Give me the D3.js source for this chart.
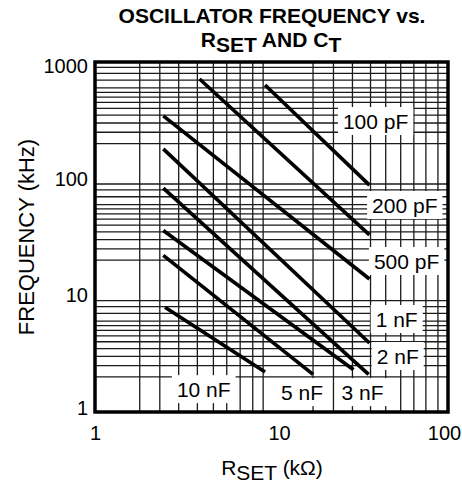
<!DOCTYPE html>
<html>
<head>
<meta charset="utf-8">
<script src="https://cdn.jsdelivr.net/npm/d3@7"></script>
<style>
  body { margin: 0; background: #fff; }
  svg { display: block; font-family: "Liberation Sans", Arial, Helvetica, sans-serif; }
</style>
</head>
<body>
<div id="chart"></div>
<script>
// one straight curve per timing capacitor:
// RSET (kOhm) and frequency (kHz) at both ends
var capLabels = ['100 pF', '200 pF', '500 pF', '1 nF', '2 nF', '3 nF', '5 nF', '10 nF'];
var rStart = [8.4, 3.7, 2.35, 2.35, 2.35, 2.35, 2.35, 2.4];
var fStart = [635, 715, 345, 180, 83, 36, 22, 7.9];
var rEnd = [34.3, 34.3, 34.3, 34.3, 33.9, 27.6, 15.9, 8.4];
var fEnd = [88, 33, 13.8, 3.9, 2.1, 2.3, 2.1, 2.2];

// where each curve's label sits, in chart units
var labelR = [37.3, 55.5, 56.9, 49.7, 50.4, 31.2, 13.7, 3.9];
var labelF = [312, 59.5, 19.7, 6.27, 3.02, 1.48, 1.48, 1.57];

var xTicks = [1, 10, 100];
var yTicks = [1, 10, 100, 1000];

// the grid as it is printed (not a clean log grid)
var xGrid = [1.75, 2.25, 2.85, 3.6, 4.4, 5.2, 6.15, 7.2, 8.2,
             15.9, 21, 27.2, 34.8, 42.8, 52.5, 62.8, 74, 87.2];
var yGridSteps = [2, 2.5, 3, 3.5, 4, 4.5, 5, 5.5, 6, 7, 8, 9];

var width = 462, height = 486;
var plot = { left: 95, right: 448, top: 62, bottom: 412 };

var svg = d3.select('#chart').append('svg')
  .attr('width', width)
  .attr('height', height);

// the printed decades are not equally wide, so the x scale is piecewise
var x = d3.scaleLog().domain([1, 10, 100]).range([plot.left, 279, plot.right]);
var y = d3.scaleLog().domain([1, 1000]).range([plot.bottom, plot.top]);

var yGrid = [];
[1, 10, 100].forEach(function(dec) {
  yGridSteps.forEach(function(s) { yGrid.push(s * dec); });
});

// grid
var grid = svg.append('g').attr('class', 'grid')
  .attr('stroke', '#1a1a1a')
  .attr('stroke-width', 1.3);

grid.selectAll('line.v')
  .data(xGrid)
  .enter().append('line')
  .attr('class', 'v')
  .attr('x1', function(d) { return x(d); })
  .attr('x2', function(d) { return x(d); })
  .attr('y1', plot.top)
  .attr('y2', plot.bottom);

grid.selectAll('line.h')
  .data(yGrid)
  .enter().append('line')
  .attr('class', 'h')
  .attr('x1', plot.left)
  .attr('x2', plot.right)
  .attr('y1', function(d) { return y(d); })
  .attr('y2', function(d) { return y(d); });

// curves
svg.append('g').selectAll('line')
  .data(capLabels)
  .enter().append('line')
  .attr('x1', function(d, i) { return x(rStart[i]); })
  .attr('y1', function(d, i) { return y(fStart[i]); })
  .attr('x2', function(d, i) { return x(rEnd[i]); })
  .attr('y2', function(d, i) { return y(fEnd[i]); })
  .attr('stroke', '#000')
  .attr('stroke-width', 3.6);

// labels on white patches that knock out the grid
var labels = svg.append('g').selectAll('g')
  .data(capLabels)
  .enter().append('g')
  .attr('transform', function(d, i) {
    return 'translate(' + x(labelR[i]) + ',' + y(labelF[i]) + ')';
  });

labels.append('rect').attr('fill', '#fff');

labels.append('text')
  .attr('text-anchor', 'middle')
  .attr('dy', '0.36em')
  .attr('font-size', 21)
  .attr('fill', '#000')
  .text(function(d) { return d; });

labels.each(function() {
  var g = d3.select(this);
  var b = g.select('text').node().getBBox();
  g.select('rect')
    .attr('x', b.x - 5)
    .attr('y', -14)
    .attr('width', b.width + 10)
    .attr('height', 28);
});

// frame
svg.append('rect')
  .attr('x', plot.left)
  .attr('y', plot.top)
  .attr('width', plot.right - plot.left)
  .attr('height', plot.bottom - plot.top)
  .attr('fill', 'none')
  .attr('stroke', '#000')
  .attr('stroke-width', 3.5);

// axes
var yAxis = svg.append('g')
  .attr('transform', 'translate(' + plot.left + ',0)')
  .call(d3.axisLeft(y).tickValues(yTicks).tickSize(0).tickPadding(7)
    .tickFormat(d3.format('d')));

var xAxis = svg.append('g')
  .attr('transform', 'translate(0,' + plot.bottom + ')')
  .call(d3.axisBottom(x).tickValues(xTicks).tickSize(0).tickPadding(14)
    .tickFormat(d3.format('d')));

[xAxis, yAxis].forEach(function(a) {
  a.select('.domain').remove();
  a.selectAll('text')
    .attr('font-family', '"Liberation Sans", Arial, sans-serif')
    .attr('font-size', 20)
    .attr('fill', '#000');
});

// end labels sit a little inside the frame corners on the sheet
yAxis.selectAll('.tick text')
  .attr('dy', function(d) { return d === 1000 ? '0.52em' : d === 1 ? '0.12em' : '0.32em'; });
xAxis.selectAll('.tick text')
  .attr('dx', function(d) { return d === 100 ? -4 : 0; });

// axis titles
svg.append('text')
  .attr('transform', 'translate(34,' + ((plot.top + plot.bottom) / 2) + ') rotate(-90)')
  .attr('text-anchor', 'middle')
  .attr('font-size', 22)
  .text('FREQUENCY (kHz)');

var xTitle = svg.append('text')
  .attr('x', 272)
  .attr('y', 475)
  .attr('text-anchor', 'middle')
  .attr('font-size', 21);
xTitle.append('tspan').text('R');
xTitle.append('tspan').attr('dy', 5).text('SET');
xTitle.append('tspan').attr('dy', -5).text(' (k\u03A9)');

// chart title
svg.append('text')
  .attr('x', 272)
  .attr('y', 23)
  .attr('text-anchor', 'middle')
  .attr('font-size', 21)
  .attr('font-weight', 'bold')
  .text('OSCILLATOR FREQUENCY vs.');

var t2 = svg.append('text')
  .attr('x', 271)
  .attr('y', 47)
  .attr('text-anchor', 'middle')
  .attr('font-size', 21)
  .attr('font-weight', 'bold');
t2.append('tspan').text('R');
t2.append('tspan').attr('dy', 5).text('SET');
t2.append('tspan').attr('dy', -5).text(' AND C');
t2.append('tspan').attr('dy', 5).text('T');
</script>
</body>
</html>
